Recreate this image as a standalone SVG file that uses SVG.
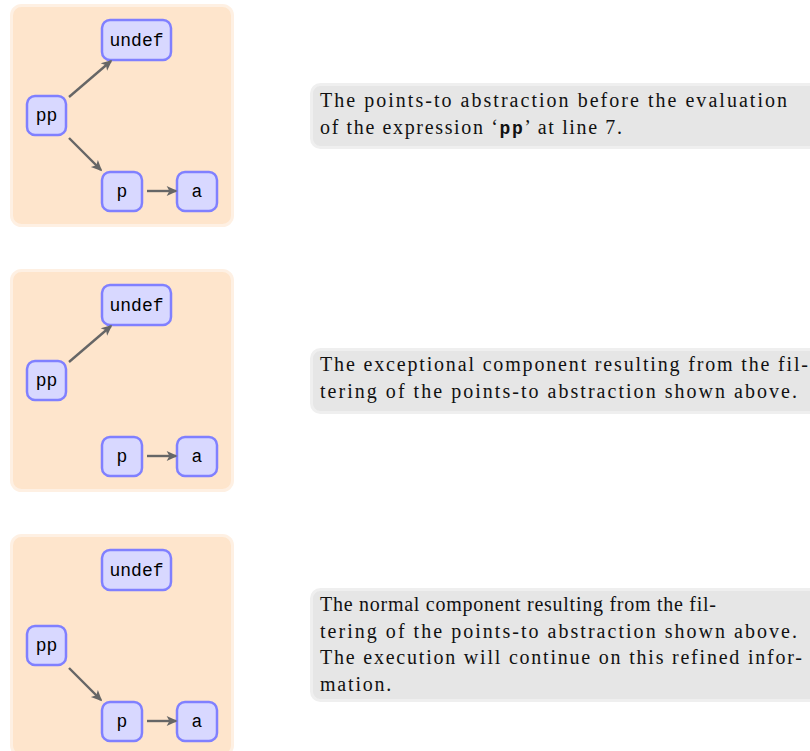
<svg xmlns="http://www.w3.org/2000/svg" width="810" height="751" viewBox="0 0 810 751">
<style>
.panel{fill:#fee5cc;stroke:#fef0e3;stroke-width:3}
.tbox{fill:#e6e6e6;stroke:#efefef;stroke-width:3}
.node rect{fill:#d8d8ff;stroke:#8080ff;stroke-width:2.5}
.node text{font-family:"Liberation Mono","DejaVu Sans Mono",monospace;font-size:18px;fill:#000;text-anchor:middle}
.edge{stroke:#666;stroke-width:2.4;fill:none;marker-end:url(#ah)}
.cap{font-family:"Liberation Serif","DejaVu Serif",serif;font-size:20px;fill:#111}
.free{letter-spacing:1.8px}
.mono{font-family:"Liberation Mono",monospace;font-weight:bold;font-size:18px}
</style>
<defs>
<marker id="ah" viewBox="0 0 10 10" refX="8.5" refY="5" markerWidth="11" markerHeight="11" orient="auto" markerUnits="userSpaceOnUse" overflow="visible">
<path d="M0,0.5 L10,5 L0,9.5 L2.5,5 Z" fill="#666"/>
</marker>
</defs>

<!-- Panel 1 -->
<g id="panel1">
<rect class="panel" x="11.5" y="5.5" width="221" height="220" rx="10"/>
</g>
<g id="p1-undef" class="node"><rect x="102" y="20" width="69" height="40" rx="8"/><text x="136.5" y="46">undef</text></g>
<g id="p1-pp" class="node"><rect x="27" y="96" width="39" height="39" rx="8"/><text x="46.5" y="121">pp</text></g>
<g id="p1-p" class="node"><rect x="102" y="172" width="40" height="39" rx="8"/><text x="122" y="197">p</text></g>
<g id="p1-a" class="node"><rect x="177" y="172" width="40" height="39" rx="8"/><text x="197" y="197">a</text></g>
<g id="p1-edges">
<line class="edge" x1="69" y1="97" x2="111" y2="61"/>
<line class="edge" x1="69" y1="138" x2="101" y2="170"/>
<line class="edge" x1="147" y1="191" x2="176" y2="191"/>
</g>
<g id="caption1">
<rect class="tbox" x="311.5" y="84.5" width="520" height="63" rx="9"/>
<text class="cap" x="320" y="107" textLength="467" lengthAdjust="spacing">The points-to abstraction before the evaluation</text>
<text class="cap" x="320" y="133.5" textLength="302" lengthAdjust="spacing">of the expression ‘<tspan class="mono">pp</tspan>’ at line 7.</text>
</g>

<!-- Panel 2 -->
<g id="panel2">
<rect class="panel" x="11.5" y="270.5" width="221" height="220" rx="10"/>
</g>
<g id="p2-undef" class="node"><rect x="102" y="285" width="69" height="40" rx="8"/><text x="136.5" y="311">undef</text></g>
<g id="p2-pp" class="node"><rect x="27" y="361" width="39" height="39" rx="8"/><text x="46.5" y="386">pp</text></g>
<g id="p2-p" class="node"><rect x="102" y="437" width="40" height="39" rx="8"/><text x="122" y="462">p</text></g>
<g id="p2-a" class="node"><rect x="177" y="437" width="40" height="39" rx="8"/><text x="197" y="462">a</text></g>
<g id="p2-edges">
<line class="edge" x1="69" y1="362" x2="111" y2="326"/>
<line class="edge" x1="147" y1="456" x2="176" y2="456"/>
</g>
<g id="caption2">
<rect class="tbox" x="311.5" y="349.5" width="520" height="63" rx="9"/>
<text class="cap" x="320" y="371" textLength="488" lengthAdjust="spacing">The exceptional component resulting from the fil-</text>
<text class="cap" x="320" y="397.5" textLength="477" lengthAdjust="spacing">tering of the points-to abstraction shown above.</text>
</g>

<!-- Panel 3 -->
<g id="panel3">
<rect class="panel" x="11.5" y="535.5" width="221" height="220" rx="10"/>
</g>
<g id="p3-undef" class="node"><rect x="102" y="550" width="69" height="40" rx="8"/><text x="136.5" y="576">undef</text></g>
<g id="p3-pp" class="node"><rect x="27" y="626" width="39" height="39" rx="8"/><text x="46.5" y="651">pp</text></g>
<g id="p3-p" class="node"><rect x="102" y="702" width="40" height="39" rx="8"/><text x="122" y="727">p</text></g>
<g id="p3-a" class="node"><rect x="177" y="702" width="40" height="39" rx="8"/><text x="197" y="727">a</text></g>
<g id="p3-edges">
<line class="edge" x1="69" y1="668" x2="101" y2="700"/>
<line class="edge" x1="147" y1="721" x2="176" y2="721"/>
</g>
<g id="caption3">
<rect class="tbox" x="311.5" y="589.5" width="520" height="111" rx="9"/>
<text class="cap" x="320" y="611" textLength="396" lengthAdjust="spacing">The normal component resulting from the fil-</text>
<text class="cap" x="320" y="637.5" textLength="477" lengthAdjust="spacing">tering of the points-to abstraction shown above.</text>
<text class="cap" x="320" y="664" textLength="482" lengthAdjust="spacing">The execution will continue on this refined infor-</text>
<text class="cap free" x="320" y="690.5">mation.</text>
</g>
</svg>
